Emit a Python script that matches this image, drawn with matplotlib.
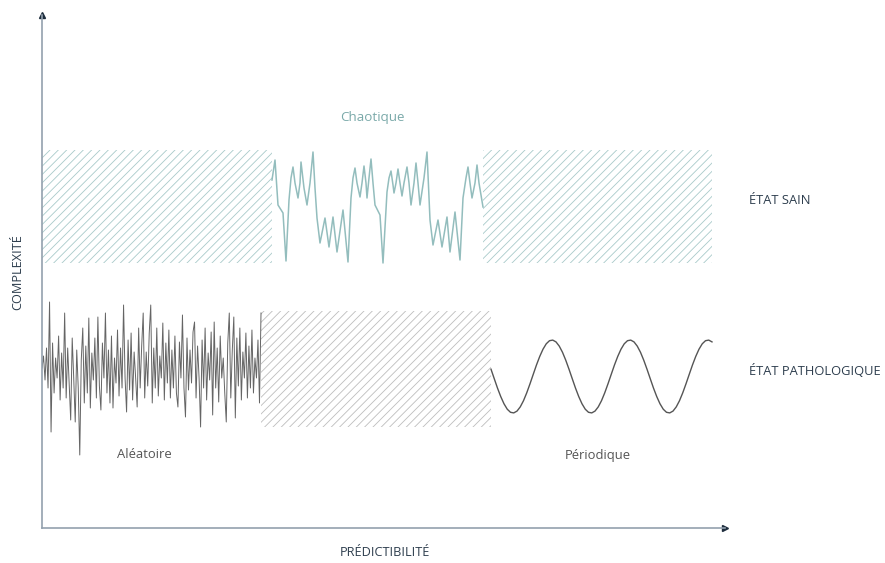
import numpy as np
import matplotlib
matplotlib.use("Agg")
import matplotlib.pyplot as plt

plt.rcParams['font.family'] = ['Open Sans', 'DejaVu Sans']
plt.rcParams['hatch.linewidth'] = 0.6

# ---------------- data (arbitrary units: predictability on x, complexity on y)
# hatched bands: left, width, bottom, height
healthy_bands_left = [0, 441]
healthy_bands_width = [230, 229]
healthy_band_bottom = 265
healthy_band_height = 113
patho_band_left = [219]
patho_band_width = [230]
patho_band_bottom = 101
patho_band_height = 116

# chaotic signal (healthy state)
chaos_x = [230, 233, 236, 241, 244, 247, 249, 251, 253, 256, 258, 259, 262, 265, 268, 271,
           273, 275, 278, 283, 287, 291, 295, 301, 306, 309, 311, 313, 315, 318, 320, 322,
           324, 325, 327, 329, 331, 333, 338, 341, 345, 347, 349, 351, 352, 354, 356, 358,
           360, 362, 365, 367, 369, 372, 374, 376, 378, 382, 385, 388, 391, 396, 400, 405,
           408, 413, 418, 421, 424, 426, 428, 430, 433, 435, 437, 441]
chaos_y = [348, 368, 323, 315, 267, 328, 350, 361, 345, 330, 345, 366, 340, 323, 345, 376,
           340, 310, 285, 310, 281, 311, 276, 318, 266, 330, 350, 360, 345, 331, 345, 362,
           345, 330, 350, 369, 345, 323, 313, 265, 336, 350, 357, 343, 335, 345, 359, 345,
           332, 345, 361, 345, 323, 345, 365, 345, 323, 350, 376, 308, 283, 308, 281, 311,
           276, 316, 268, 330, 350, 361, 345, 330, 345, 363, 345, 321]

# random signal (pathological state)
random_y = [160, 172, 148, 180, 140, 226, 96, 185, 135, 170, 150, 192, 128, 175, 140, 215,
            130, 180, 145, 108, 190, 150, 106, 178, 140, 73, 168, 200, 125, 182, 135, 210,
            120, 175, 148, 190, 130, 211, 142, 118, 185, 150, 215, 135, 178, 125, 192, 120,
            170, 145, 198, 132, 180, 140, 223, 150, 116, 188, 138, 195, 128, 176, 150, 121,
            200, 140, 182, 215, 130, 176, 142, 195, 223, 125, 180, 140, 200, 132, 172, 150,
            205, 128, 185, 145, 198, 130, 178, 140, 192, 135, 121, 186, 150, 213, 140, 111,
            190, 138, 178, 145, 196, 206, 130, 182, 150, 101, 188, 140, 200, 128, 175, 148,
            196, 113, 206, 140, 180, 126, 192, 150, 170, 135, 106, 185, 215, 130, 178, 211,
            110, 190, 142, 200, 128, 176, 150, 195, 130, 182, 140, 198, 135, 170, 150, 188,
            125, 215]
random_x_range = [0, 219]

# periodic signal (pathological state)
periodic_cycle = [158.8, 149.3, 139.9, 131.4, 124.2, 118.8, 115.7, 115.1, 116.9, 121.1,
                  127.3, 135.2, 144.2, 153.7, 163.1, 171.6, 178.8, 184.2, 187.3, 187.9,
                  186.1, 181.9, 175.7, 167.8]
periodic_y = periodic_cycle * 2 + periodic_cycle[:21]
periodic_x_range = [449, 670]

labels_regions = ["Chaotique", "Aléatoire", "Périodique"]
labels_states = ["ÉTAT SAIN", "ÉTAT PATHOLOGIQUE"]
axis_x_label = "PRÉDICTIBILITÉ"
axis_y_label = "COMPLEXITÉ"

# ---------------- styles
teal_hatch = "#a9caca"
teal_line = "#93bdbd"
teal_text = "#7aa9a9"
gray_hatch = "#bdbdbd"
gray_line = "#4a4a4a"
gray_text = "#555555"
dark_text = "#2e3e4e"
axis_color = "#93a1ae"
arrow_color = "#1e2d3d"

fig = plt.figure(figsize=(8.85, 5.63), dpi=100)
ax = fig.add_axes([42 / 885, 35 / 563, 683 / 885, 513 / 563])
ax.set_xlim(0, 683)
ax.set_ylim(0, 513)

# hatched bands
ax.bar(healthy_bands_left, healthy_band_height, width=healthy_bands_width,
       bottom=healthy_band_bottom, align='edge', fill=False, hatch='////',
       edgecolor=teal_hatch, linewidth=0)
ax.bar(patho_band_left, patho_band_height, width=patho_band_width,
       bottom=patho_band_bottom, align='edge', fill=False, hatch='////',
       edgecolor=gray_hatch, linewidth=0)

# signals
ax.plot(chaos_x, chaos_y, color=teal_line, lw=1.1, solid_joinstyle='round')
rx = np.linspace(random_x_range[0], random_x_range[1], len(random_y))
ax.plot(rx, random_y, color=gray_line, lw=0.7, alpha=0.85)
px = np.linspace(periodic_x_range[0], periodic_x_range[1], len(periodic_y))
ax.plot(px, periodic_y, color="#555555", lw=1.0)

# axes
for s in ['top', 'right']:
    ax.spines[s].set_visible(False)
for s in ['left', 'bottom']:
    ax.spines[s].set_color(axis_color)
    ax.spines[s].set_linewidth(1.2)
ax.set_xticks([])
ax.set_yticks([])
ax.plot(0, 1, marker='^', color=arrow_color, markersize=5, transform=ax.transAxes, clip_on=False)
ax.plot(1, 0, marker='>', color=arrow_color, markersize=5, transform=ax.transAxes, clip_on=False)

# texts
ax.text(330, 410, labels_regions[0], color=teal_text, fontsize=9.6, ha='center', va='center')
ax.text(102, 73, labels_regions[1], color=gray_text, fontsize=9.4, ha='center', va='center')
ax.text(556, 73, labels_regions[2], color=gray_text, fontsize=9.4, ha='center', va='center')
ax.text(707, 327, labels_states[0], color=dark_text, fontsize=9.3, ha='left', va='center')
ax.text(707, 157, labels_states[1], color=dark_text, fontsize=9.3, ha='left', va='center')
fig.text(385 / 885, 1 - 553 / 563, axis_x_label, color=dark_text, fontsize=9.2,
         ha='center', va='center')
fig.text(18 / 885, 1 - 272 / 563, axis_y_label, color=dark_text, fontsize=9.2,
         ha='center', va='center', rotation=90)

fig.savefig("out.png", dpi=100)
